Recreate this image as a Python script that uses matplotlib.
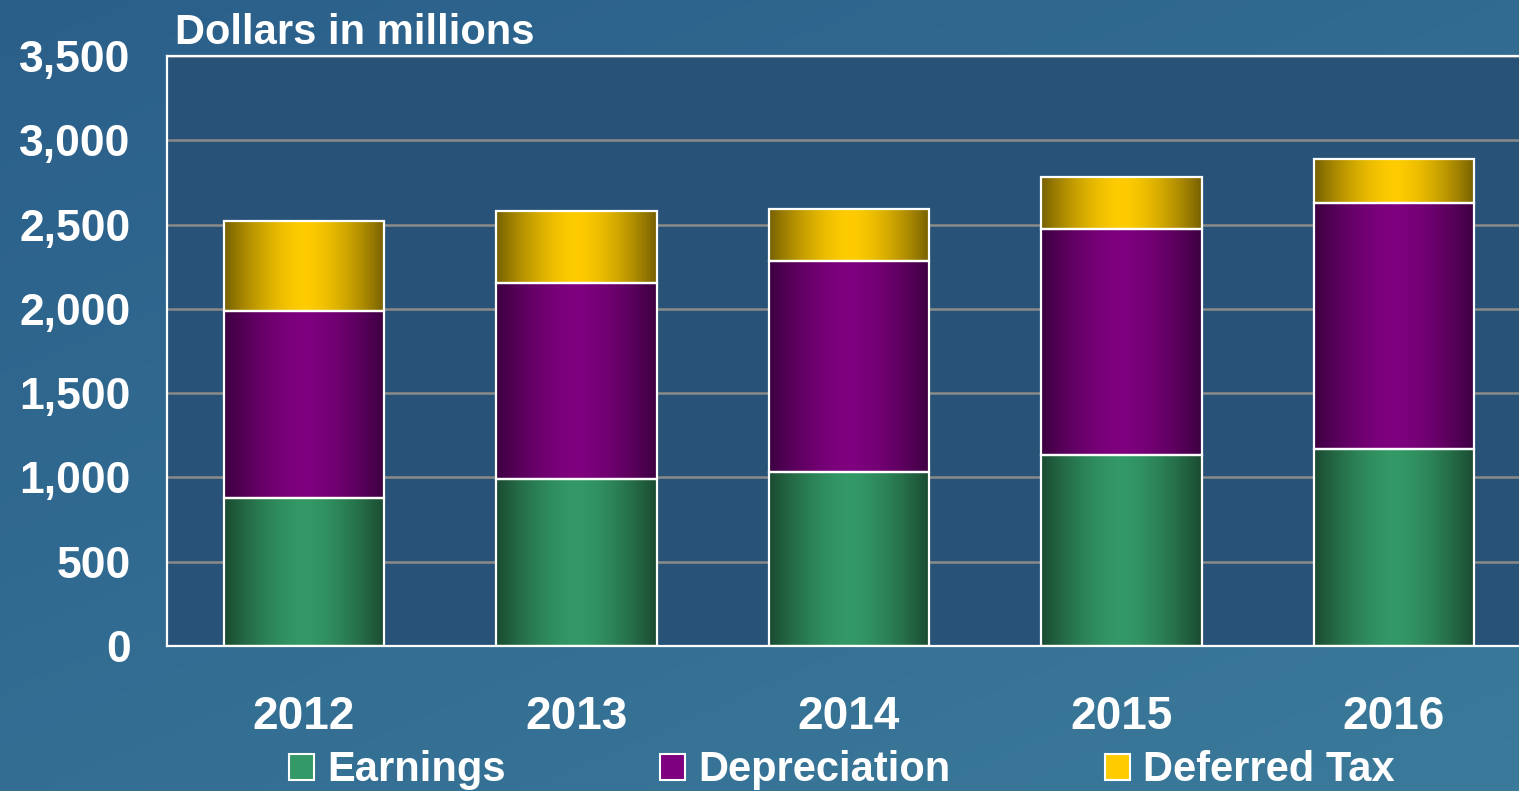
import numpy as np
import matplotlib.pyplot as plt
from matplotlib.colors import to_rgb
from matplotlib.patches import Patch

# values (dollars in millions)
years = ["2012", "2013", "2014", "2015", "2016"]
earnings = [878, 991, 1032, 1133, 1169]
depreciation = [1109, 1162, 1252, 1341, 1461]
deferred_tax = [534, 427, 308, 308, 257]
series_names = ["Earnings", "Depreciation", "Deferred Tax"]
yticks = [0, 500, 1000, 1500, 2000, 2500, 3000, 3500]

# (edge colour, centre colour) for the shaded bars
shades = [("#1a4a30", "#339966"),
          ("#3c0040", "#7f007f"),
          ("#766000", "#ffcc00")]

plt.rcParams['font.family'] = ['Liberation Sans', 'DejaVu Sans']
plt.rcParams['font.weight'] = 'bold'

fig = plt.figure(figsize=(15.19, 7.91), dpi=100)

# blue background, done as a smooth gradient
bg = fig.add_axes([0, 0, 1, 1], zorder=-10)
yy, xx = np.mgrid[0:1:200j, 0:1:400j]
top = np.array(to_rgb("#2a5f8a"))
bottom = np.array(to_rgb("#3b7a9a"))
w = np.clip(0.55 * yy + 0.45 * xx, 0, 1)[..., None]
bg.imshow(top * (1 - w) + bottom * w, aspect='auto', extent=(0, 1, 1, 0))
bg.axis('off')

ax = fig.add_axes([0.1099, 0.1833, 0.8901, 0.7459])
ax.set_facecolor("#285278")


def shade_image(edge, centre, n=256):
    t = np.abs(np.linspace(-1, 1, n))
    m = np.clip(t, 0, 1) ** 1.6
    e, c = np.array(to_rgb(edge)), np.array(to_rgb(centre))
    row = c * (1 - m[:, None]) + e * m[:, None]
    return row[None, :, :]


x = np.arange(len(years))
width = 0.59
bottoms = np.zeros(len(years))
for vals, (edge, centre) in zip([earnings, depreciation, deferred_tax], shades):
    bars = ax.bar(x, vals, width, bottom=bottoms, facecolor='none',
                  edgecolor='white', linewidth=1.6, zorder=3)
    img = shade_image(edge, centre)
    for b in bars:
        x0, y0 = b.get_x(), b.get_y()
        im = ax.imshow(img, aspect='auto', zorder=2,
                       extent=(x0, x0 + b.get_width(), y0, y0 + b.get_height()))
        im.set_clip_path(b)
    bottoms += np.array(vals)

ax.set_xlim(-0.503, 4.459)
ax.set_ylim(0, 3500)
ax.set_yticks(yticks)
ax.set_yticklabels([f"{v:,}" for v in yticks])
ax.set_xticks(x)
ax.set_xticklabels(years)
ax.tick_params(axis='y', length=0, pad=26, labelsize=32, labelcolor='white')
ax.tick_params(axis='x', length=0, pad=35, labelsize=33, labelcolor='white')
ax.yaxis.grid(True, color='#8a8a8a', linewidth=1.8, zorder=0)
ax.set_axisbelow(True)
for s in ['left', 'top', 'bottom']:
    ax.spines[s].set_color('white')
    ax.spines[s].set_linewidth(1.6)
ax.spines['right'].set_visible(False)

fig.text(0.1152, 0.944, "Dollars in millions", color='white', fontsize=30,
         fontweight='bold', va='baseline', ha='left')

handles = [Patch(facecolor=c, edgecolor='white', linewidth=1.5) for _, c in shades]
leg = fig.legend(handles, series_names, loc='center left', ncol=3,
                 bbox_to_anchor=(0.1905, 0.026), frameon=False, fontsize=30,
                 handlelength=0.6, handleheight=0.6, handletextpad=0.3,
                 columnspacing=3.72, borderaxespad=0, borderpad=0)
for t in leg.get_texts():
    t.set_color('white')

fig.savefig("out.png", dpi=100)
